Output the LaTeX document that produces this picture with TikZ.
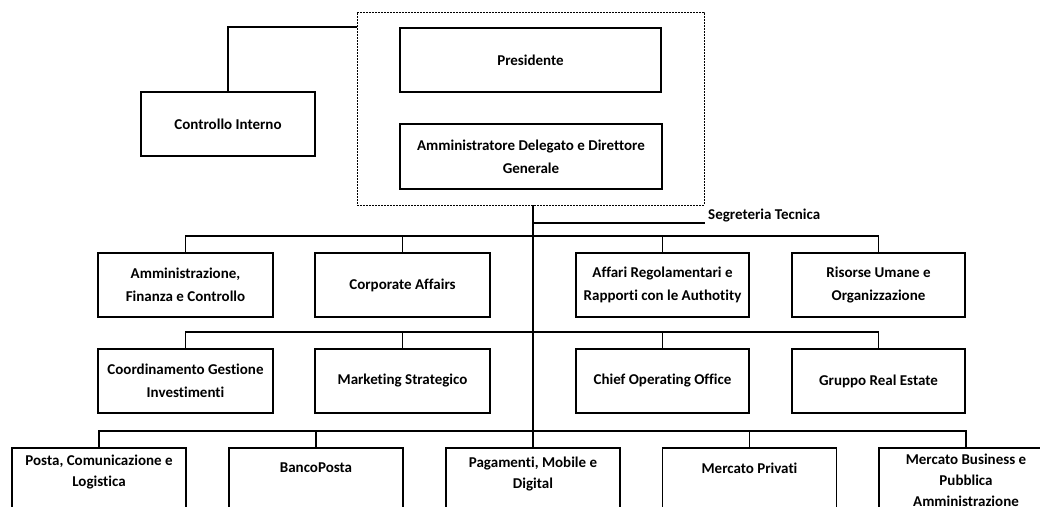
\documentclass[tikz,border=0pt]{standalone}
\usepackage{fontspec}
\setmainfont{Carlito}[Ligatures=NoCommon]
\begin{document}
\begin{tikzpicture}[x=1pt,y=-1pt,
  box/.style={draw=black, line width=1.8pt, minimum width=174pt, minimum height=64pt,
    inner sep=0pt, align=center, font=\fontsize{15}{23}\selectfont\bfseries},
  lbl/.style={inner sep=0pt, align=center, font=\fontsize{15}{21}\selectfont\bfseries},
  conn/.style={draw=black, line width=1.6pt},
  grp/.style={draw=black, line width=0.9pt, dash pattern=on 2pt off 1pt, inner sep=0pt}]
\useasboundingbox (0,0) rectangle (1040,506);
\clip (0,0) rectangle (1040,506);
% top group
\node[grp, minimum width=347pt, minimum height=193pt] (grp) at (530.5,108.5) {};
\node[box, minimum width=261pt] (pres) at (530.5,60) {Presidente};
\node[box, minimum width=262pt, minimum height=65pt] (ad) at (531,156.5) {Amministratore Delegato e Direttore\\Generale};
\node[box] (ctrl) at (228,124) {Controllo Interno};
% row 1
\node[box, minimum width=175pt] (a1) at (185.5,285) {Amministrazione,\\Finanza e Controllo};
\node[box, minimum width=175pt] (a2) at (402.5,285) {Corporate Affairs};
\node[box, minimum width=173pt] (a3) at (662.5,285) {Affari Regolamentari e\\Rapporti con le Authotity};
\node[box, minimum width=173pt] (a4) at (878.5,285) {Risorse Umane e\\Organizzazione};
% row 2
\node[box, minimum width=175pt] (b1) at (185.5,381) {Coordinamento Gestione\\Investimenti};
\node[box, minimum width=175pt] (b2) at (402.5,381) {Marketing Strategico};
\node[box, minimum width=173pt] (b3) at (662.5,381) {Chief Operating Office};
\node[box, minimum width=173pt] (b4) at (878.5,381) {Gruppo Real Estate};
% row 3 (boxes run past the lower edge)
\node[box, minimum height=80pt] (c1) at (99,488) {};
\node[box, minimum height=80pt] (c2) at (316,488) {};
\node[box, minimum height=80pt] (c3) at (533,488) {};
\node[box, minimum height=80pt] (c4) at (749.5,488) {};
\node[box, minimum height=80pt] (c5) at (966,488) {};
\node[lbl] (t1) at (99,472) {Posta, Comunicazione e\\Logistica};
\node[lbl] (t2) at (316,468) {BancoPosta};
\node[lbl] (t3) at (533,474) {Pagamenti, Mobile e\\Digital};
\node[lbl] (t4) at (749.5,468) {Mercato Privati};
\node[lbl, anchor=north] (t5) at (966,454) {Mercato Business e\\Pubblica\\Amministrazione};
% Segreteria Tecnica
\node[anchor=south west, inner xsep=3pt, inner ysep=0.5pt, font=\fontsize{15}{18}\selectfont\bfseries] (seg) at (705,223) {Segreteria Tecnica};
% connectors
\draw[conn] (ctrl.north) |- (grp.west |- pres.north);
\draw[conn] (grp.south -| c3.north) -- (c3.north);
\draw[conn] (c3.north |- seg.south west) -- (seg.south west);
\draw[conn] (a1.north) -- ++(0,-16) -| (a4.north);
\draw[conn] (a2.north) -- ++(0,-16);
\draw[conn] (a3.north) -- ++(0,-16);
\draw[conn] (b1.north) -- ++(0,-16) -| (b4.north);
\draw[conn] (b2.north) -- ++(0,-16);
\draw[conn] (b3.north) -- ++(0,-16);
\draw[conn] (c1.north) -- ++(0,-16) -| (c5.north);
\draw[conn] (c2.north) -- ++(0,-16);
\draw[conn] (c4.north) -- ++(0,-16);
\end{tikzpicture}
\end{document}
